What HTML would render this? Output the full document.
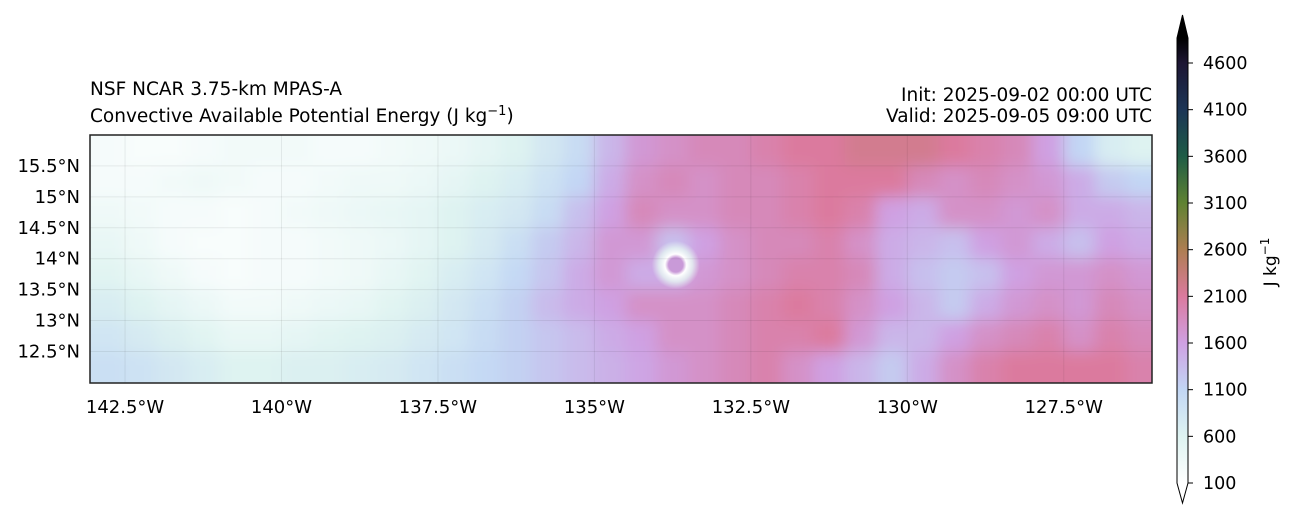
<!DOCTYPE html>
<html><head><meta charset="utf-8">
<style>
html,body{margin:0;padding:0;background:#fff;}
svg{display:block;font-family:"DejaVu Sans","Liberation Sans",sans-serif;}
</style></head>
<body>
<svg id="chart" width="1299" height="520" viewBox="0 0 1299 520">
  <defs>
    <clipPath id="axclip"><rect x="90" y="135" width="1062" height="248"/></clipPath>
    <filter id="soft" x="-10%" y="-30%" width="120%" height="160%"><feGaussianBlur stdDeviation="8"/></filter>
    <radialGradient id="eyeg">
      <stop offset="0" stop-color="#c99ad8" stop-opacity="1"/>
      <stop offset="0.3" stop-color="#c99ad8" stop-opacity="1"/>
      <stop offset="0.45" stop-color="#ffffff" stop-opacity="1"/>
      <stop offset="0.7" stop-color="#e6f6f2" stop-opacity="0.8"/>
      <stop offset="1" stop-color="#e6f6f2" stop-opacity="0"/>
    </radialGradient>
    <linearGradient id="cbgrad" x1="0" y1="1" x2="0" y2="0"></linearGradient>
  </defs>
  <text x="90" y="95" font-size="18.5">NSF NCAR 3.75-km MPAS-A</text>
  <text x="90" y="122" font-size="18.5">Convective Available Potential Energy (J kg<tspan dy="-7" font-size="13">−1</tspan><tspan dy="7">)</tspan></text>
  <text x="1152" y="101" font-size="18.5" text-anchor="end">Init: 2025-09-02 00:00 UTC</text>
  <text x="1152" y="122" font-size="18.5" text-anchor="end">Valid: 2025-09-05 09:00 UTC</text>
  <g id="field" clip-path="url(#axclip)">
    <rect x="90" y="135" width="1062" height="248" fill="#f4fbfa"/>
    <g id="cells" filter="url(#soft)"></g>
    <circle id="eye" r="24" fill="url(#eyeg)"/>
    <g id="grid"></g>
  </g>
  <rect x="90" y="135" width="1062" height="248" fill="none" stroke="#222" stroke-width="1.5"/>
  <g id="ylabels"></g>
  <g id="xlabels"></g>
  <g id="colorbar">
    <rect id="cbbody" x="1177" y="38" width="11" height="445"/>
    <polygon id="cbtop" points="1177,38 1188,38 1182.5,15" fill="#000"/>
    <polygon id="cbbot" points="1177,483 1188,483 1182.5,503" fill="#fff"/>
    <path d="M1177,38 L1182.5,15 L1188,38 L1188,483 L1182.5,503 L1177,483 Z" fill="none" stroke="#000" stroke-width="1"/>
    <g id="cbticks"></g>
    <text transform="translate(1276,262) rotate(-90)" font-size="17" text-anchor="middle">J kg<tspan dy="-7" font-size="12">−1</tspan></text>
  </g>
</svg>
<script>
const NS="http://www.w3.org/2000/svg";
// data
const lonStart=-143, lonStep=0.5;
const latCenters=[15.75,15.25,14.75,14.25,13.75,13.25,12.75,12.25];
const capeRows=[
[250,200,200,250,300,300,300,250,250,300,350,400,500,600,800,1000,1400,1700,1800,1900,1900,2000,2100,2100,2200,2200,2200,2100,2000,1900,1600,1100,700,600],
[250,250,300,350,300,250,250,300,350,350,400,500,600,700,900,1100,1500,1800,1900,1800,1900,1900,2000,2100,2100,2100,1900,1800,1900,1800,1700,1500,1200,1100],
[350,300,250,250,200,250,300,350,400,450,500,600,700,800,1000,1300,1600,1900,1800,1800,1900,1900,2000,2100,2000,1600,1500,1800,1800,1700,1800,1500,1500,1400],
[450,350,250,200,200,250,250,300,350,400,500,600,750,950,1200,1400,1700,1700,1300,1600,1800,1900,1900,2000,1800,1500,1400,1300,1600,1700,1500,1300,1600,1500],
[550,450,350,250,200,250,250,300,350,450,550,700,850,1050,1250,1500,1700,1500,1500,1700,1800,1900,2000,2000,1900,1500,1300,1200,1300,1600,1700,1700,1800,1700],
[700,600,500,400,300,300,350,400,450,550,650,800,950,1150,1350,1500,1600,1800,1800,1800,1900,2000,2100,2000,1800,1600,1400,1200,1500,1700,1800,1700,1900,1800],
[850,750,650,550,450,450,500,550,600,650,750,850,1000,1150,1250,1350,1500,1600,1800,1800,1900,2000,2000,2100,1700,1400,1400,1600,1800,1900,2000,1800,2000,1900],
[950,900,800,700,600,600,650,650,700,750,850,950,1050,1150,1250,1350,1450,1550,1700,1800,1900,2000,1800,1600,1400,1200,1500,1800,2000,2100,2100,2100,2100,2000]
];
const eyeLon=-133.7, eyeLat=13.9;
const latTicks=[15.5,15,14.5,14,13.5,13,12.5];
const latTickLabels=["15.5°N","15°N","14.5°N","14°N","13.5°N","13°N","12.5°N"];
const lonTicks=[-142.5,-140,-137.5,-135,-132.5,-130,-127.5];
const lonTickLabels=["142.5°W","140°W","137.5°W","135°W","132.5°W","130°W","127.5°W"];
const cbTicks=[100,600,1100,1600,2100,2600,3100,3600,4100,4600];
const cmapVals=[100,600,1100,1600,2100,2600,3100,3600,4100,4600,4900];
const cmapCols=["#ffffff","#def3f1","#c2d6f4","#cfa0e2","#db7a9e","#ad7e52","#5f8232","#1f5c46","#1c3556","#1d1633","#000000"];
// scales
const X0=90,X1=1152,Y0=135,Y1=383;
const LON0=-143.06,LON1=-126.09,LAT0=11.99,LAT1=16.0;
const xs=lon=>X0+(lon-LON0)/(LON1-LON0)*(X1-X0);
const ys=lat=>Y1-(lat-LAT0)/(LAT1-LAT0)*(Y1-Y0);
const cbY=v=>483-(v-100)*(420/4500);
function hex(c){return [1,3,5].map(i=>parseInt(c.substr(i,2),16));}
function cmap(v){
  if(v<=cmapVals[0])return cmapCols[0];
  for(let i=1;i<cmapVals.length;i++){if(v<=cmapVals[i]){const t=(v-cmapVals[i-1])/(cmapVals[i]-cmapVals[i-1]);const a=hex(cmapCols[i-1]),b=hex(cmapCols[i]);return "rgb("+a.map((x,k)=>Math.round(x+(b[k]-x)*t)).join(",")+")";}}
  return cmapCols[cmapCols.length-1];
}
const cells=document.getElementById('cells');
capeRows.forEach((row,r)=>{
  row.forEach((v,c)=>{
    let xa=xs(lonStart+c*lonStep),xb=xs(lonStart+(c+1)*lonStep);
    let ya=ys(latCenters[r]+0.25),yb=ys(latCenters[r]-0.25);
    if(c===0)xa-=30; if(c===row.length-1)xb+=30;
    if(r===0)ya-=30; if(r===capeRows.length-1)yb+=30;
    const el=document.createElementNS(NS,'rect');
    el.setAttribute('x',xa);el.setAttribute('y',ya);
    el.setAttribute('width',xb-xa+1);el.setAttribute('height',yb-ya+1);
    el.setAttribute('fill',cmap(v));
    
    
    cells.appendChild(el);
  });
});
const eye=document.getElementById('eye');
eye.setAttribute('cx',xs(eyeLon));eye.setAttribute('cy',ys(eyeLat));
const grid=document.getElementById('grid');
latTicks.forEach((t,i)=>{
  const l=document.createElementNS(NS,'line');
  l.setAttribute('x1',X0);l.setAttribute('x2',X1);l.setAttribute('y1',ys(t));l.setAttribute('y2',ys(t));
  l.setAttribute('stroke','rgba(0,0,0,0.07)');
  
  
  grid.appendChild(l);
  const tx=document.createElementNS(NS,'text');
  tx.setAttribute('x',80);tx.setAttribute('y',ys(t)+6);tx.setAttribute('font-size','18');tx.setAttribute('text-anchor','end');
  tx.textContent=latTickLabels[i];
  
  
  document.getElementById('ylabels').appendChild(tx);
});
lonTicks.forEach((t,i)=>{
  const l=document.createElementNS(NS,'line');
  l.setAttribute('y1',Y0);l.setAttribute('y2',Y1);l.setAttribute('x1',xs(t));l.setAttribute('x2',xs(t));
  l.setAttribute('stroke','rgba(0,0,0,0.07)');
  
  
  grid.appendChild(l);
  const tx=document.createElementNS(NS,'text');
  tx.setAttribute('x',xs(t));tx.setAttribute('y',413);tx.setAttribute('font-size','18');tx.setAttribute('text-anchor','middle');
  tx.textContent=lonTickLabels[i];
  
  
  document.getElementById('xlabels').appendChild(tx);
});
// colorbar gradient
const g=document.getElementById('cbgrad');
g.setAttribute('gradientUnits','userSpaceOnUse');g.setAttribute('x1',0);g.setAttribute('x2',0);g.setAttribute('y1',483);g.setAttribute('y2',38);
cmapVals.forEach((v,i)=>{const s=document.createElementNS(NS,'stop');s.setAttribute('offset',(483-cbY(v))/445);s.setAttribute('stop-color',cmapCols[i]);g.appendChild(s);});
document.getElementById('cbbody').setAttribute('fill','url(#cbgrad)');
const cbt=document.getElementById('cbticks');
cbTicks.forEach(v=>{
  const l=document.createElementNS(NS,'line');
  l.setAttribute('x1',1188);l.setAttribute('x2',1193);l.setAttribute('y1',cbY(v));l.setAttribute('y2',cbY(v));l.setAttribute('stroke','#000');
  
  
  cbt.appendChild(l);
  const tx=document.createElementNS(NS,'text');
  tx.setAttribute('x',1203);tx.setAttribute('y',cbY(v)+6);tx.setAttribute('font-size','17.5');
  tx.textContent=v;
  
  
  cbt.appendChild(tx);
});
</script>
</body></html>
